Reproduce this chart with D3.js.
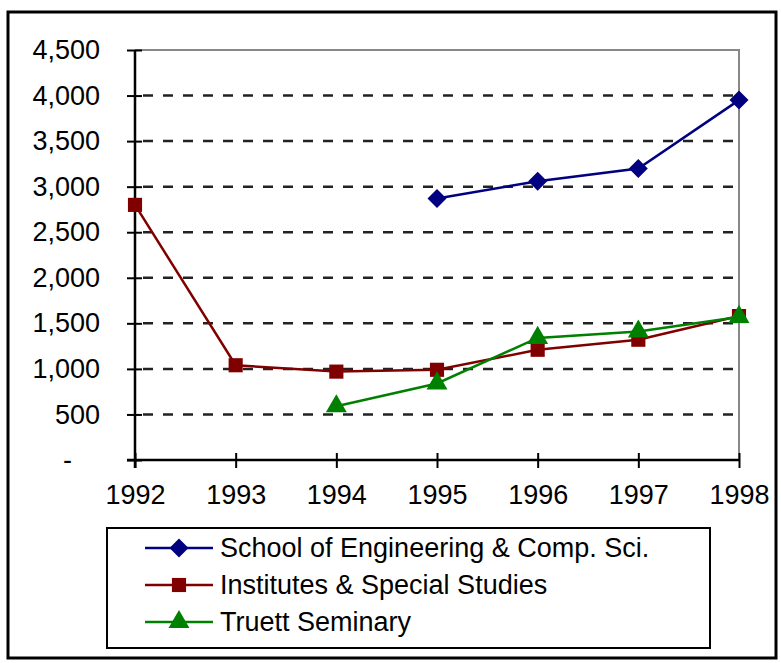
<!DOCTYPE html>
<html>
<head>
<meta charset="utf-8">
<script src="https://cdn.jsdelivr.net/npm/d3@7"></script>
<style>
  body { margin: 0; background: #fff; }
  svg text { font-family: "Liberation Sans", Arial, sans-serif; fill: #000; }
</style>
</head>
<body>
<div id="chart"></div>
<script>
var years = [1992, 1993, 1994, 1995, 1996, 1997, 1998];
var yTicks = [0, 500, 1000, 1500, 2000, 2500, 3000, 3500, 4000, 4500];
var seriesNames = ["School of Engineering & Comp. Sci.", "Institutes & Special Studies", "Truett Seminary"];
var engineering = [null, null, null, 2870, 3060, 3200, 3950];
var institutes = [2800, 1040, 970, 990, 1210, 1320, 1580];
var truett = [null, null, 590, 840, 1340, 1410, 1570];
var colors = ["#000080", "#800000", "#008000"];
var markers = [d3.symbolDiamond2, d3.symbolSquare, d3.symbolTriangle];

function init() {
    var w = 781, h = 663;
    var svg = d3.select("#chart").append("svg").attr("width", w).attr("height", h);

    // outer frame
    svg.append("rect").attr("x", 8).attr("y", 12).attr("width", 768).attr("height", 646)
        .attr("fill", "none").attr("stroke", "#000").attr("stroke-width", 3);

    var xScale = d3.scaleLinear().domain([1992, 1998]).range([135, 739]);
    var yScale = d3.scaleLinear().domain([0, 4500]).range([460, 50]);

    // gridlines
    svg.append("g").selectAll("line").data(yTicks.filter(function(d) { return d > 0 && d < 4500; }))
        .enter().append("line")
        .attr("x1", 143).attr("x2", 739)
        .attr("y1", function(d) { return yScale(d); })
        .attr("y2", function(d) { return yScale(d); })
        .attr("stroke", "#222").attr("stroke-width", 2.5).attr("stroke-dasharray", "10,10");

    // plot border top/right
    svg.append("path")
        .attr("d", "M" + xScale(1992) + "," + yScale(4500) + "H" + xScale(1998) + "V" + yScale(0))
        .attr("fill", "none").attr("stroke", "#888").attr("stroke-width", 2);

    var yAxis = d3.axisLeft(yScale).tickValues(yTicks).tickSizeOuter(0).tickSize(8).tickPadding(27)
        .tickFormat(function(d) { return d === 0 ? "-" : d3.format(",")(d); });
    var gy = svg.append("g").attr("transform", "translate(" + xScale(1992) + ",0)").call(yAxis);

    var xAxis = d3.axisBottom(xScale).tickValues(years).tickSizeOuter(0).tickSize(8).tickPadding(17)
        .tickFormat(d3.format("d"));
    var gx = svg.append("g").attr("transform", "translate(0," + yScale(0) + ")").call(xAxis);

    [gx, gy].forEach(function(g) {
        g.select(".domain").attr("stroke", "#000").attr("stroke-width", 2.5);
        g.selectAll(".tick line").attr("stroke", "#000").attr("stroke-width", 2);
        g.selectAll("text").attr("font-size", 27).attr("fill", "#111");
    });
    gy.selectAll(".tick line").attr("x1", 7);
    gx.selectAll(".tick line").attr("y1", -7);
    gy.selectAll(".tick text").filter(function(d) { return d === 0; }).attr("dx", -28);
    gy.select(".domain").attr("d", "M0," + yScale(4500) + "V" + (yScale(0) + 8));
    gx.select(".domain").attr("d", "M" + (xScale(1992) - 8) + ",0H" + xScale(1998));

    var allSeries = [engineering, institutes, truett];
    var line = d3.line()
        .defined(function(d) { return d != null; })
        .x(function(d, i) { return xScale(years[i]); })
        .y(function(d) { return yScale(d); });

    var markerSize = [230, 200, 190];
    allSeries.forEach(function(vals, s) {
        svg.append("path").datum(vals).attr("d", line)
            .attr("fill", "none").attr("stroke", colors[s]).attr("stroke-width", 2.5);
        svg.append("g").selectAll("path")
            .data(vals.map(function(v, i) { return { year: years[i], v: v }; })
                .filter(function(d) { return d.v != null; }))
            .enter().append("path")
            .attr("d", d3.symbol().type(markers[s]).size(markerSize[s]))
            .attr("transform", function(d) { return "translate(" + xScale(d.year) + "," + yScale(d.v) + ")"; })
            .attr("fill", colors[s]);
    });

    // legend
    var lg = svg.append("g");
    lg.append("rect").attr("x", 107).attr("y", 528).attr("width", 603).attr("height", 120)
        .attr("fill", "#fff").attr("stroke", "#000").attr("stroke-width", 2);
    var rowY = [548, 585, 622];
    seriesNames.forEach(function(name, s) {
        lg.append("line").attr("x1", 145).attr("x2", 213).attr("y1", rowY[s]).attr("y2", rowY[s])
            .attr("stroke", colors[s]).attr("stroke-width", 2.5);
        lg.append("path").attr("d", d3.symbol().type(markers[s]).size(markerSize[s]))
            .attr("transform", "translate(179," + rowY[s] + ")").attr("fill", colors[s]);
        lg.append("text").attr("x", 220).attr("y", rowY[s]).attr("dy", "0.35em")
            .attr("font-size", 27).attr("fill", "#111").text(name);
    });
}

window.onload = init;
</script>
</body>
</html>
